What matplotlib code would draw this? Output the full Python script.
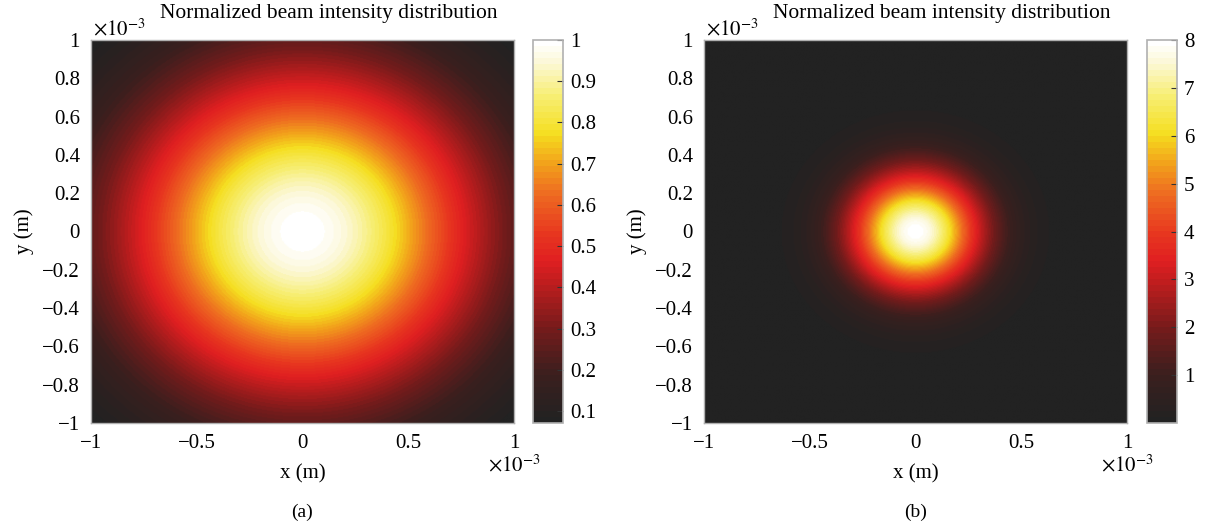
import numpy as np
import matplotlib
matplotlib.use("Agg")
import matplotlib.pyplot as plt
from matplotlib.colors import LinearSegmentedColormap, ListedColormap

plt.rcParams['font.family'] = ['Liberation Serif', 'DejaVu Serif']
plt.rcParams['mathtext.fontset'] = 'stix'

# beam parameters (metres, normalized intensity)
extent_m = 1e-3
peak_a = 1.0
waist_a = 1.23e-3
peak_b = 8.0
waist_b = 0.44e-3

cbar_ticks_a = [0.1, 0.2, 0.3, 0.4, 0.5, 0.6, 0.7, 0.8, 0.9, 1.0]
cbar_labels_a = ['0.1', '0.2', '0.3', '0.4', '0.5', '0.6', '0.7', '0.8', '0.9', '1']
cbar_ticks_b = [1, 2, 3, 4, 5, 6, 7, 8]
x_ticks = [-1, -0.5, 0, 0.5, 1]
y_ticks = [-1, -0.8, -0.6, -0.4, -0.2, 0, 0.2, 0.4, 0.6, 0.8, 1]

# colour ramp sampled from the colorbar
cmap_pos = [0.0, 0.12, 0.25, 0.36, 0.42, 0.50, 0.60, 0.68, 0.76, 0.86, 0.95, 1.0]
cmap_col = ['#222222', '#3b1f1e', '#7a1b1b', '#bd1d1e', '#e01f21', '#e8391f',
            '#ee6a21', '#f2a11b', '#f5de1f', '#f7ee72', '#fcf8d8', '#ffffff']

ramp = LinearSegmentedColormap.from_list('beam', list(zip(cmap_pos, cmap_col)))
cmap = ListedColormap(ramp(np.linspace(0, 1, 64)))

n = 401
xs = np.linspace(-extent_m, extent_m, n)
X, Y = np.meshgrid(xs, xs)
R2 = X ** 2 + Y ** 2
I_a = peak_a * np.exp(-2 * R2 / waist_a ** 2)
I_b = peak_b * np.exp(-2 * R2 / waist_b ** 2)

W, H = 1206, 531
fig = plt.figure(figsize=(W / 100, H / 100), dpi=100)

bot = (H - 423) / H
hgt = (423 - 40) / H
axw = 423 / W
cbw = 30 / W

panels = [
    (91, 533, I_a, cbar_ticks_a, cbar_labels_a, '(a)'),
    (704, 1147, I_b, cbar_ticks_b, [str(t) for t in cbar_ticks_b], '(b)'),
]

fs = 15
edge = '#b0b0b0'
for left, cleft, data, cticks, clabels, tag in panels:
    ax = fig.add_axes([left / W, bot, axw, hgt])
    im = ax.imshow(data, extent=[-1, 1, -1, 1], origin='lower', cmap=cmap,
                   vmin=data.min(), vmax=data.max(), interpolation='bilinear',
                   aspect='auto')
    ax.set_xlim(-1, 1)
    ax.set_ylim(-1, 1)
    ax.set_xticks(x_ticks)
    ax.set_xticklabels(['\u22121', '\u22120.5', '0', '0.5', '1'])
    ax.set_yticks(y_ticks)
    ax.set_yticklabels([('\u2212' if v < 0 else '') + ('%g' % abs(v)) for v in y_ticks])
    ax.tick_params(length=0, labelsize=fs, pad=8)
    for s in ax.spines.values():
        s.set_color(edge)
        s.set_linewidth(1.0)
    ax.set_xlabel('x (m)', fontsize=fs, labelpad=8)
    ax.set_ylabel('y (m)', fontsize=fs, labelpad=6)
    ax.text(0.562, 1.045, 'Normalized beam intensity distribution', transform=ax.transAxes,
            ha='center', va='bottom', fontsize=15.5)
    ax.text(0.005, 1.0, r'$\times10^{-3}$', transform=ax.transAxes,
            ha='left', va='bottom', fontsize=fs)
    ax.text(1.0, -0.112, r'$\times10^{-3}$', transform=ax.transAxes,
            ha='center', va='center', fontsize=fs)
    ax.text(0.5, -0.21, tag, transform=ax.transAxes,
            ha='center', va='top', fontsize=fs - 1)

    cax = fig.add_axes([cleft / W, bot, cbw, hgt])
    cb = fig.colorbar(im, cax=cax)
    cb.set_ticks(cticks)
    cb.set_ticklabels(clabels)
    cax.tick_params(direction='in', length=4, width=0.8, color='#333333',
                    labelsize=fs, pad=5)
    cb.outline.set_edgecolor(edge)
    cb.outline.set_linewidth(1.2)

fig.savefig('out.png', dpi=100)
plt.close()
